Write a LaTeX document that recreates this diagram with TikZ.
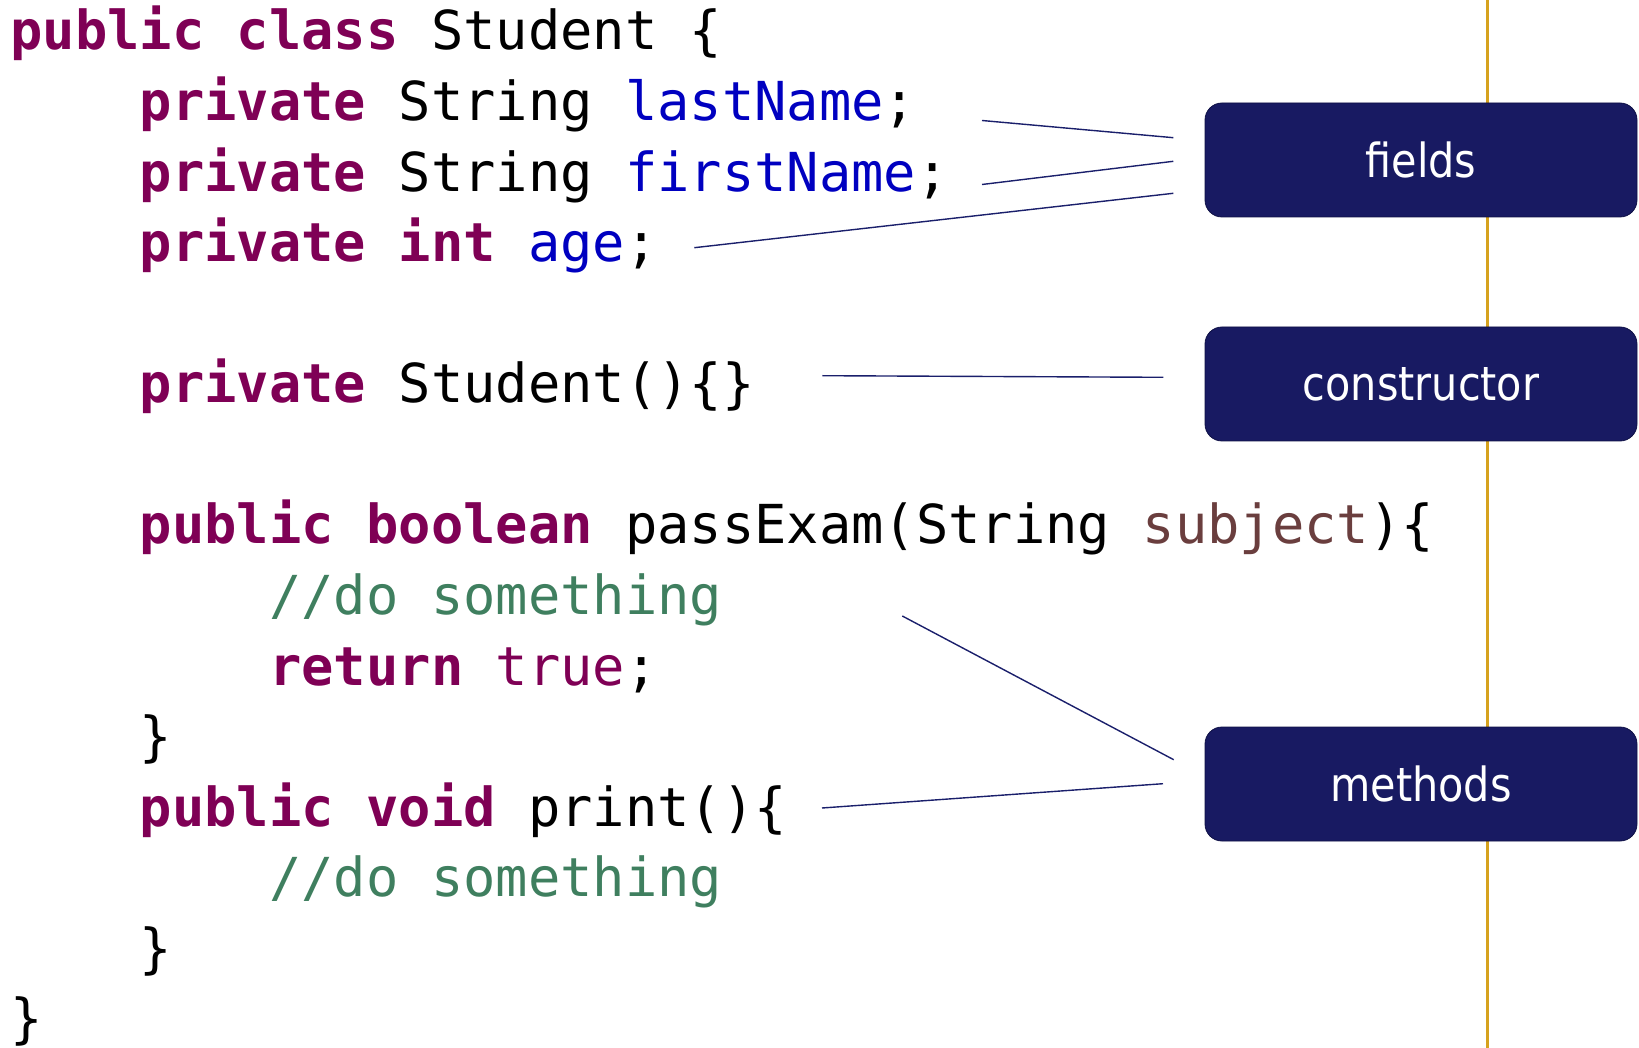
\documentclass[tikz,border=0pt]{standalone}
\usepackage{fontspec}
\newfontfamily\codefont{DejaVu Sans Mono}
\newfontfamily\boxfont[FakeStretch=0.88]{DejaVu Sans}
\definecolor{kwc}{HTML}{7F0055}
\definecolor{fldc}{HTML}{0000C0}
\definecolor{cmtc}{HTML}{3F7F5F}
\definecolor{prmc}{HTML}{6A3E3E}
\definecolor{boxfill}{HTML}{181A62}
\definecolor{boxline}{HTML}{0E1045}
\definecolor{connc}{HTML}{1A1F6B}
\definecolor{goldc}{HTML}{D6A21E}
\newcommand\ckw[1]{\textcolor{kwc}{\bfseries #1}}
\newcommand\cfld[1]{\textcolor{fldc}{#1}}
\newcommand\ccmt[1]{\textcolor{cmtc}{#1}}
\newcommand\cprm[1]{\textcolor{prmc}{#1}}
\begin{document}
\begin{tikzpicture}[x=1pt,y=-1pt,
  codeline/.style={anchor=base west,inner sep=0pt,outer sep=0pt,
    font=\codefont\fontsize{53.73}{70}\selectfont,text=black},
  labelbox/.style={draw=boxline,line width=0.8pt,fill=boxfill,rounded corners=17pt,
    minimum width=432pt,minimum height=114pt,inner sep=0pt,text=white,
    font=\boxfont\fontsize{47}{56}\selectfont},
  conn/.style={draw=connc,line width=1.4pt},
  goldline/.style={draw=goldc,line width=2.6pt}]
\useasboundingbox (0,0) rectangle (1639,1048);
% vertical gold line
\coordinate (gtop) at (1487.5,0);
\coordinate (gbot) at (1487.5,1048);
\draw[goldline] (gtop) -- (gbot);
% label boxes
\node[labelbox] (fields) at (1421,160) {fields};
\node[labelbox] (constructor) at (1421,384) {constructor};
\node[labelbox] (methods) at (1421,784) {methods};
% code lines
\node[codeline] (l0) at (10.5,50) {\ckw{public} \ckw{class} Student \{};
\node[codeline] (l1) at (139.9,120.56) {\ckw{private} String \cfld{lastName};};
\node[codeline] (l2) at (139.9,191.12) {\ckw{private} String \cfld{firstName};};
\node[codeline] (l3) at (139.9,261.68) {\ckw{private} \ckw{int} \cfld{age};};
\node[codeline] (l5) at (139.9,402.8) {\ckw{private} Student()\{\}};
\node[codeline] (l7) at (139.9,543.9) {\ckw{public} \ckw{boolean} passExam(String \cprm{subject})\{};
\node[codeline] (l8) at (269.3,614.5) {\ccmt{//do something}};
\node[codeline] (l9) at (269.3,685.0) {\ckw{return} \textcolor{kwc}{true};};
\node[codeline] (l10) at (139.9,755.6) {\}};
\node[codeline] (l11) at (139.9,826.2) {\ckw{public} \ckw{void} print()\{};
\node[codeline] (l12) at (269.3,896.7) {\ccmt{//do something}};
\node[codeline] (l13) at (139.9,967.3) {\}};
\node[codeline] (l14) at (10.5,1037.8) {\}};
% connector end points
\coordinate (a1) at (982,120.5);  \coordinate (b1) at (1173.3,137.7);
\coordinate (a2) at (982,184.5);  \coordinate (b2) at (1173.3,161.3);
\coordinate (a3) at (694.3,247.7);\coordinate (b3) at (1173.3,193.3);
\coordinate (a4) at (822.3,375.7);\coordinate (b4) at (1163.3,377.3);
\coordinate (a5) at (902.3,616);  \coordinate (b5) at (1173.7,759.7);
\coordinate (a6) at (822,808);    \coordinate (b6) at (1163,783.7);
\draw[conn] (a1) -- (b1);
\draw[conn] (a2) -- (b2);
\draw[conn] (a3) -- (b3);
\draw[conn] (a4) -- (b4);
\draw[conn] (a5) -- (b5);
\draw[conn] (a6) -- (b6);
\end{tikzpicture}
\end{document}
